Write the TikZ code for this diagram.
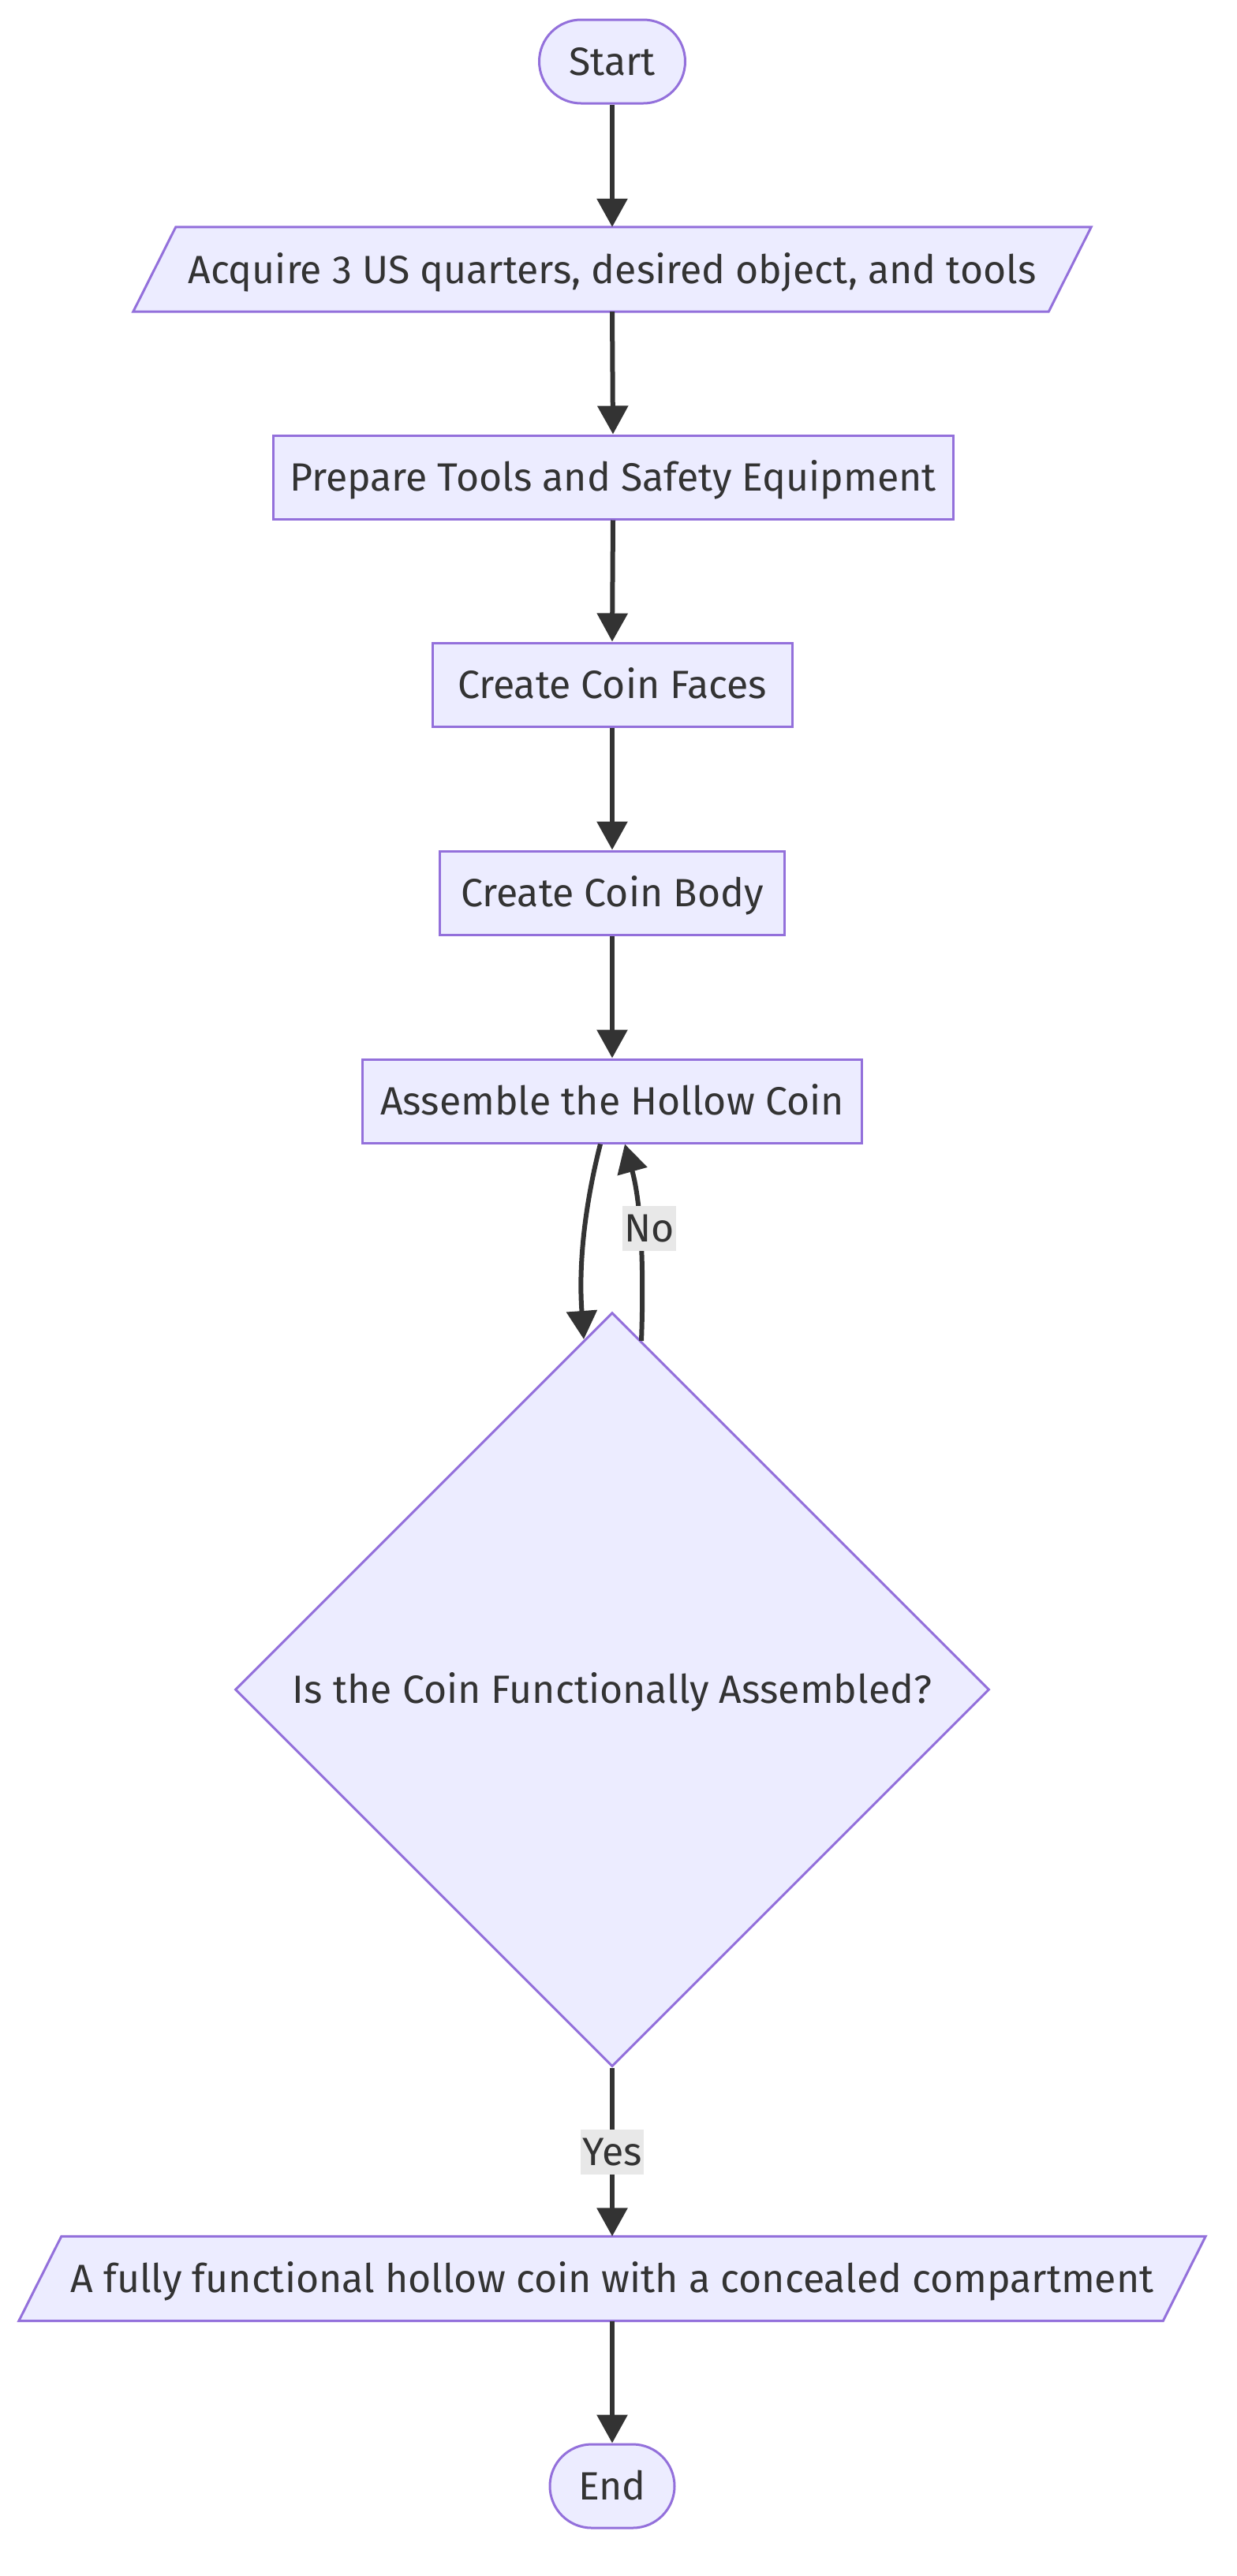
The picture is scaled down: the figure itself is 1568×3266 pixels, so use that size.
\documentclass[tikz,border=0pt]{standalone}
\usepackage{fontspec}
\setmainfont{Fira Sans}
\usetikzlibrary{shapes.geometric,arrows.meta,backgrounds}
\definecolor{nfill}{HTML}{ECECFF}
\definecolor{nline}{HTML}{9370DB}
\definecolor{ink}{HTML}{333333}
\definecolor{lbl}{HTML}{E8E8E8}
\begin{document}
\begin{tikzpicture}[x=1pt,y=-1pt,
 every node/.style={font=\fontsize{50}{60}\selectfont, text=ink, text height=35pt, text depth=0pt},
 proc/.style={draw=nline, fill=nfill, line width=3pt, minimum height=106pt, inner sep=0pt},
 term/.style={proc, rounded corners=53pt},
 io/.style={minimum height=107pt, inner sep=0pt},
 iobox/.style={draw=nline, fill=nfill, line width=3pt},
 dec/.style={diamond, draw=nline, fill=nfill, line width=3pt, minimum width=956pt, minimum height=956pt, inner sep=0pt},
 edge/.style={draw=ink, line width=6pt, -{Triangle[length=36pt,width=38pt]}},
 elabel/.style={fill=lbl, inner xsep=2pt, inner ysep=11pt}
]
\useasboundingbox (0,0) rectangle (1568,3266);

\node[term, minimum width=185pt] (start) at (776,78) {Start};
\node[io, minimum width=1214pt] (acq) at (776,341.5) {Acquire 3 US quarters, desired object, and tools};
\node[proc, minimum width=862pt] (prep) at (777,605) {Prepare Tools and Safety Equipment};
\node[proc, minimum width=456pt] (faces) at (776,868) {Create Coin Faces};
\node[proc, minimum width=437pt] (body) at (776,1132) {Create Coin Body};
\node[proc, minimum width=633pt] (asm) at (776,1396) {Assemble the Hollow Coin};
\node[dec] (chk) at (776,2142) {Is the Coin Functionally Assembled?};
\node[io, minimum width=1504pt] (res) at (776,2889) {A fully functional hollow coin with a concealed compartment};
\node[term, minimum width=158pt] (end) at (776,3152) {End};

\begin{scope}[on background layer]
\fill[white] (0,0) rectangle (1568,3266);
\path[iobox] ([xshift=54pt]acq.north west) -- (acq.north east) -- ([xshift=-54pt]acq.south east) -- (acq.south west) -- cycle;
\path[iobox] ([xshift=54pt]res.north west) -- (res.north east) -- ([xshift=-54pt]res.south east) -- (res.south west) -- cycle;
\end{scope}

\coordinate (a1) at ([xshift=-15pt]asm.south);
\coordinate (a2) at ([xshift=16pt]asm.south);
\coordinate (d1) at (740,1698);
\coordinate (d2) at (813,1700);

\draw[edge] (start.south) -- (acq.north);
\draw[edge] (acq.south) -- (prep.north);
\draw[edge] (prep.south) -- (faces.north);
\draw[edge] (faces.south) -- (body.north);
\draw[edge] (body.south) -- (asm.north);
\draw[edge] (a1) .. controls (742,1525) and (733,1600) .. (d1);
\draw[edge] (d2) .. controls (816,1620) and (814,1530) .. (a2);
\draw[edge] (chk.south) -- (res.north);
\draw[edge] (res.south) -- (end.north);

\node[elabel] (no) at (823,1557) {No};
\node[elabel] (yes) at (776,2728) {Yes};
\end{tikzpicture}
\end{document}
